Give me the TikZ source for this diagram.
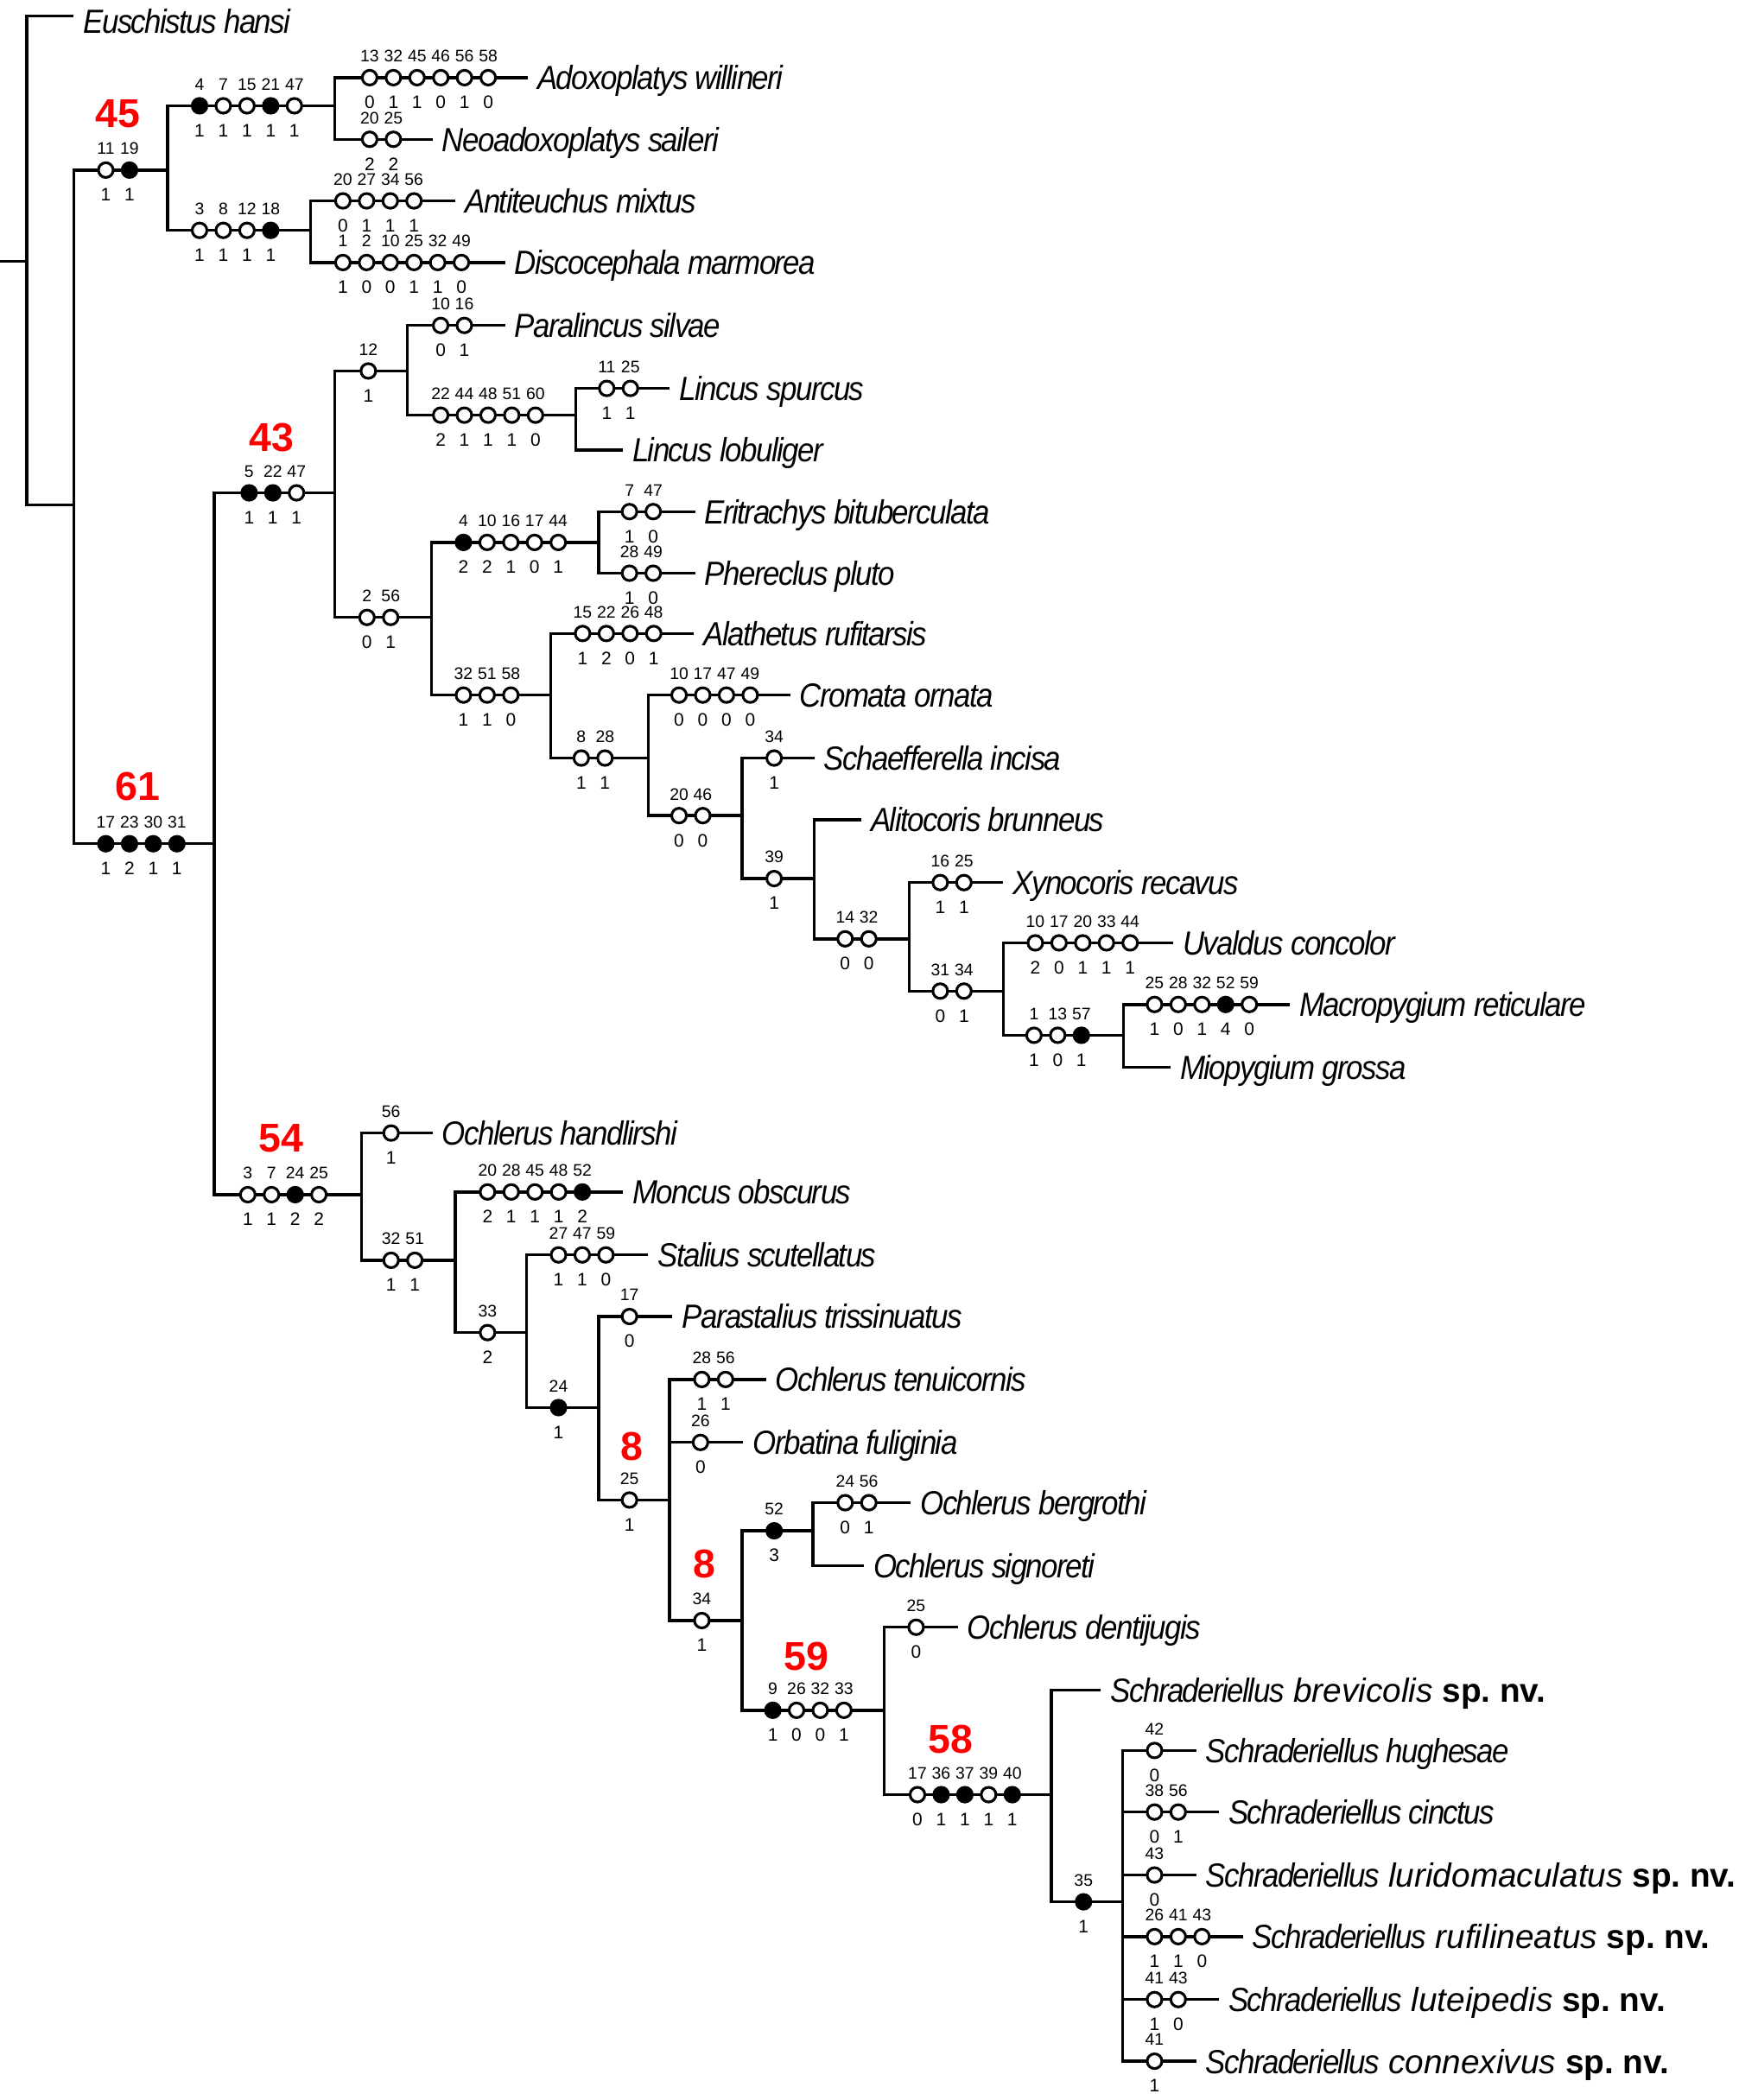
\documentclass[tikz,border=0pt]{standalone}
\usepackage{fontspec}
\setmainfont{Liberation Sans}
\newfontfamily\condf[FakeStretch=0.9,LetterSpace=-4]{Liberation Sans}
\colorlet{ow}{white}
\colorlet{bk}{black}
\newcounter{cc}
\newcommand\chs[3]{\foreach \cnum/\cstate/\cfill [count=\ci from 0] in {#3}{%
  \stepcounter{cc}%
  \node[oc, fill=\cfill] (k\arabic{cc}) at (#1+\ci*17.7,#2) {};%
  \node[nl] (kn\arabic{cc}) at (#1+\ci*17.7,#2-16) {\cnum};%
  \node[sl] (ks\arabic{cc}) at (#1+\ci*17.7,#2+18.5) {\cstate};}}
\newcommand\spnv[1]{{\condf\itshape Schraderiellus} {\itshape\fontsize{25}{30}\selectfont #1} {\bfseries\fontsize{25}{30}\selectfont sp.\ nv.}}
\tikzset{
  br/.style={line width=2.2pt, line join=miter},
  oc/.style={circle, draw, line width=2pt, minimum size=11pt, inner sep=0pt},
  nl/.style={inner sep=0pt, font=\fontsize{12.5}{13}\selectfont},
  sl/.style={inner sep=0pt, font=\fontsize{13.5}{14}\selectfont},
  tx/.style={anchor=base west, inner sep=0pt, font=\condf\itshape\fontsize{25}{30}\selectfont},
  sx/.style={anchor=base west, inner sep=0pt, font=\fontsize{25}{30}\selectfont},
  rd/.style={inner sep=0pt, text=red, font=\bfseries\fontsize{30}{30}\selectfont},
}
\begin{document}
\begin{tikzpicture}[x=1pt,y=-1pt]
\useasboundingbox (0,0) rectangle (1298,1568);
% junctions
\coordinate (rootstub) at (0,195);
\coordinate (R) at (20,195);
\coordinate (tE) at (55,12);
\coordinate (A) at (55,377);
\coordinate (N45) at (125,127);
\coordinate (N45a) at (250,79);
\coordinate (tAdox) at (394,58);
\coordinate (tNeo) at (323,104);
\coordinate (N45b) at (232,172);
\coordinate (tAnti) at (340,150);
\coordinate (tDisc) at (377,196);
\coordinate (N61) at (160,630);
\coordinate (N43) at (250,368);
\coordinate (N12) at (304,277);
\coordinate (tPara) at (377,243);
\coordinate (NL) at (430,310);
\coordinate (tLsp) at (500,290);
\coordinate (tLlo) at (465,336);
\coordinate (N2) at (322,461);
\coordinate (N4) at (447,405);
\coordinate (tErit) at (519,382);
\coordinate (tPher) at (519,428);
\coordinate (N32) at (411,519);
\coordinate (tAla) at (518,473);
\coordinate (N8) at (484,566);
\coordinate (tCro) at (590,519);
\coordinate (N20) at (554,609);
\coordinate (tSch) at (608,566);
\coordinate (N39) at (608,656);
\coordinate (tAli) at (643,612);
\coordinate (N14) at (679,701);
\coordinate (tXyn) at (749,659);
\coordinate (N31) at (749,740);
\coordinate (tUva) at (876,704);
\coordinate (N1) at (839,773);
\coordinate (tMac) at (963,750);
\coordinate (tMio) at (874,797);
\coordinate (N54) at (270,892);
\coordinate (tOha) at (323,846);
\coordinate (N3251) at (340,941);
\coordinate (tMon) at (465,890);
\coordinate (N33) at (393,995);
\coordinate (tSta) at (484,937);
\coordinate (N24) at (447,1051);
\coordinate (tPar) at (502,983);
\coordinate (N25) at (500,1120);
\coordinate (tOte) at (572,1030);
\coordinate (tOrb) at (555,1077);
\coordinate (N34) at (554,1210);
\coordinate (N52) at (607,1143);
\coordinate (tOber) at (680,1122);
\coordinate (tOsig) at (645,1169);
\coordinate (N59) at (660,1277);
\coordinate (tOden) at (715,1215);
\coordinate (N58) at (785,1340);
\coordinate (tSbre) at (822,1262);
\coordinate (N35) at (838,1420);
\coordinate (tShug) at (893,1307);
\coordinate (tScin) at (910,1353);
\coordinate (tSlur) at (893,1400);
\coordinate (tSruf) at (928,1446);
\coordinate (tSlut) at (910,1493);
\coordinate (tScon) at (893,1539);
% branches
\draw[br] (rootstub) -- (R);
\draw[br] (R) |- (tE);
\draw[br] (R) |- (A);
\draw[br] (A) |- (N45);
\draw[br] (A) |- (N61);
\draw[br] (N45) |- (N45a);
\draw[br] (N45) |- (N45b);
\draw[br] (N45a) |- (tAdox);
\draw[br] (N45a) |- (tNeo);
\draw[br] (N45b) |- (tAnti);
\draw[br] (N45b) |- (tDisc);
\draw[br] (N61) |- (N43);
\draw[br] (N61) |- (N54);
\draw[br] (N43) |- (N12);
\draw[br] (N43) |- (N2);
\draw[br] (N12) |- (tPara);
\draw[br] (N12) |- (NL);
\draw[br] (NL) |- (tLsp);
\draw[br] (NL) |- (tLlo);
\draw[br] (N2) |- (N4);
\draw[br] (N2) |- (N32);
\draw[br] (N4) |- (tErit);
\draw[br] (N4) |- (tPher);
\draw[br] (N32) |- (tAla);
\draw[br] (N32) |- (N8);
\draw[br] (N8) |- (tCro);
\draw[br] (N8) |- (N20);
\draw[br] (N20) |- (tSch);
\draw[br] (N20) |- (N39);
\draw[br] (N39) |- (tAli);
\draw[br] (N39) |- (N14);
\draw[br] (N14) |- (tXyn);
\draw[br] (N14) |- (N31);
\draw[br] (N31) |- (tUva);
\draw[br] (N31) |- (N1);
\draw[br] (N1) |- (tMac);
\draw[br] (N1) |- (tMio);
\draw[br] (N54) |- (tOha);
\draw[br] (N54) |- (N3251);
\draw[br] (N3251) |- (tMon);
\draw[br] (N3251) |- (N33);
\draw[br] (N33) |- (tSta);
\draw[br] (N33) |- (N24);
\draw[br] (N24) |- (tPar);
\draw[br] (N24) |- (N25);
\draw[br] (N25) |- (tOte);
\draw[br] (N25) |- (tOrb);
\draw[br] (N25) |- (N34);
\draw[br] (N34) |- (N52);
\draw[br] (N34) |- (N59);
\draw[br] (N52) |- (tOber);
\draw[br] (N52) |- (tOsig);
\draw[br] (N59) |- (tOden);
\draw[br] (N59) |- (N58);
\draw[br] (N58) |- (tSbre);
\draw[br] (N58) |- (N35);
\draw[br] (N35) |- (tShug);
\draw[br] (N35) |- (tScin);
\draw[br] (N35) |- (tSlur);
\draw[br] (N35) |- (tSruf);
\draw[br] (N35) |- (tSlut);
\draw[br] (N35) |- (tScon);
% characters
\chs{79}{127}{11/1/ow,19/1/bk}
\chs{149}{79}{4/1/bk,7/1/ow,15/1/ow,21/1/bk,47/1/ow}
\chs{276}{58}{13/0/ow,32/1/ow,45/1/ow,46/0/ow,56/1/ow,58/0/ow}
\chs{276}{104}{20/2/ow,25/2/ow}
\chs{149}{172}{3/1/ow,8/1/ow,12/1/ow,18/1/bk}
\chs{256}{150}{20/0/ow,27/1/ow,34/1/ow,56/1/ow}
\chs{256}{196}{1/1/ow,2/0/ow,10/0/ow,25/1/ow,32/1/ow,49/0/ow}
\chs{79}{630}{17/1/bk,23/2/bk,30/1/bk,31/1/bk}
\chs{186}{368}{5/1/bk,22/1/bk,47/1/ow}
\chs{275}{277}{12/1/ow}
\chs{329}{243}{10/0/ow,16/1/ow}
\chs{329}{310}{22/2/ow,44/1/ow,48/1/ow,51/1/ow,60/0/ow}
\chs{453}{290}{11/1/ow,25/1/ow}
\chs{274}{461}{2/0/ow,56/1/ow}
\chs{346}{405}{4/2/bk,10/2/ow,16/1/ow,17/0/ow,44/1/ow}
\chs{470}{382}{7/1/ow,47/0/ow}
\chs{470}{428}{28/1/ow,49/0/ow}
\chs{346}{519}{32/1/ow,51/1/ow,58/0/ow}
\chs{435}{473}{15/1/ow,22/2/ow,26/0/ow,48/1/ow}
\chs{434}{566}{8/1/ow,28/1/ow}
\chs{507}{519}{10/0/ow,17/0/ow,47/0/ow,49/0/ow}
\chs{507}{609}{20/0/ow,46/0/ow}
\chs{578}{566}{34/1/ow}
\chs{578}{656}{39/1/ow}
\chs{631}{701}{14/0/ow,32/0/ow}
\chs{702}{659}{16/1/ow,25/1/ow}
\chs{702}{740}{31/0/ow,34/1/ow}
\chs{773}{704}{10/2/ow,17/0/ow,20/1/ow,33/1/ow,44/1/ow}
\chs{772}{773}{1/1/ow,13/0/ow,57/1/bk}
\chs{862}{750}{25/1/ow,28/0/ow,32/1/ow,52/4/bk,59/0/ow}
\chs{185}{892}{3/1/ow,7/1/ow,24/2/bk,25/2/ow}
\chs{292}{846}{56/1/ow}
\chs{292}{941}{32/1/ow,51/1/ow}
\chs{364}{890}{20/2/ow,28/1/ow,45/1/ow,48/1/ow,52/2/bk}
\chs{364}{995}{33/2/ow}
\chs{417}{937}{27/1/ow,47/1/ow,59/0/ow}
\chs{417}{1051}{24/1/bk}
\chs{470}{983}{17/0/ow}
\chs{470}{1120}{25/1/ow}
\chs{524}{1030}{28/1/ow,56/1/ow}
\chs{523}{1077}{26/0/ow}
\chs{524}{1210}{34/1/ow}
\chs{578}{1143}{52/3/bk}
\chs{631}{1122}{24/0/ow,56/1/ow}
\chs{577}{1277}{9/1/bk,26/0/ow,32/0/ow,33/1/ow}
\chs{684}{1215}{25/0/ow}
\chs{685}{1340}{17/0/ow,36/1/bk,37/1/bk,39/1/ow,40/1/bk}
\chs{809}{1420}{35/1/bk}
\chs{862}{1307}{42/0/ow}
\chs{862}{1353}{38/0/ow,56/1/ow}
\chs{862}{1400}{43/0/ow}
\chs{862}{1446}{26/1/ow,41/1/ow,43/0/ow}
\chs{862}{1493}{41/1/ow,43/0/ow}
\chs{862}{1539}{41/1/ow}
% red numbers
\node[rd] (r45) at (88,85) {45};
\node[rd] (r43) at (203,327) {43};
\node[rd] (r61) at (103,587) {61};
\node[rd] (r54) at (210,850) {54};
\node[rd] (r8a) at (472,1080) {8};
\node[rd] (r8b) at (526,1168) {8};
\node[rd] (r59) at (602,1237) {59};
\node[rd] (r58) at (710,1299) {58};
% taxa
\node[tx] (lE) at ([xshift=7pt,yshift=-13pt]tE) {Euschistus hansi};
\node[tx] (lAdox) at ([xshift=7pt,yshift=-9pt]tAdox) {Adoxoplatys willineri};
\node[tx] (lNeo) at ([xshift=7pt,yshift=-9pt]tNeo) {Neoadoxoplatys saileri};
\node[tx] (lAnti) at ([xshift=7pt,yshift=-9pt]tAnti) {Antiteuchus mixtus};
\node[tx] (lDisc) at ([xshift=7pt,yshift=-9pt]tDisc) {Discocephala marmorea};
\node[tx] (lPara) at ([xshift=7pt,yshift=-9pt]tPara) {Paralincus silvae};
\node[tx] (lLsp) at ([xshift=7pt,yshift=-9pt]tLsp) {Lincus spurcus};
\node[tx] (lLlo) at ([xshift=7pt,yshift=-9pt]tLlo) {Lincus lobuliger};
\node[tx] (lErit) at ([xshift=7pt,yshift=-9pt]tErit) {Eritrachys bituberculata};
\node[tx] (lPher) at ([xshift=7pt,yshift=-9pt]tPher) {Phereclus pluto};
\node[tx] (lAla) at ([xshift=7pt,yshift=-9pt]tAla) {Alathetus rufitarsis};
\node[tx] (lCro) at ([xshift=7pt,yshift=-9pt]tCro) {Cromata ornata};
\node[tx] (lSch) at ([xshift=7pt,yshift=-9pt]tSch) {Schaefferella incisa};
\node[tx] (lAli) at ([xshift=7pt,yshift=-9pt]tAli) {Alitocoris brunneus};
\node[tx] (lXyn) at ([xshift=7pt,yshift=-9pt]tXyn) {Xynocoris recavus};
\node[tx] (lUva) at ([xshift=7pt,yshift=-9pt]tUva) {Uvaldus concolor};
\node[tx] (lMac) at ([xshift=7pt,yshift=-9pt]tMac) {Macropygium reticulare};
\node[tx] (lMio) at ([xshift=7pt,yshift=-9pt]tMio) {Miopygium grossa};
\node[tx] (lOha) at ([xshift=7pt,yshift=-9pt]tOha) {Ochlerus handlirshi};
\node[tx] (lMon) at ([xshift=7pt,yshift=-9pt]tMon) {Moncus obscurus};
\node[tx] (lSta) at ([xshift=7pt,yshift=-9pt]tSta) {Stalius scutellatus};
\node[tx] (lPar) at ([xshift=7pt,yshift=-9pt]tPar) {Parastalius trissinuatus};
\node[tx] (lOte) at ([xshift=7pt,yshift=-9pt]tOte) {Ochlerus tenuicornis};
\node[tx] (lOrb) at ([xshift=7pt,yshift=-9pt]tOrb) {Orbatina fuliginia};
\node[tx] (lOber) at ([xshift=7pt,yshift=-9pt]tOber) {Ochlerus bergrothi};
\node[tx] (lOsig) at ([xshift=7pt,yshift=-9pt]tOsig) {Ochlerus signoreti};
\node[tx] (lOden) at ([xshift=7pt,yshift=-9pt]tOden) {Ochlerus dentijugis};
\node[sx] (lSbre) at ([xshift=7pt,yshift=-9pt]tSbre) {\spnv{brevicolis}};
\node[tx] (lShug) at ([xshift=7pt,yshift=-9pt]tShug) {Schraderiellus hughesae};
\node[tx] (lScin) at ([xshift=7pt,yshift=-9pt]tScin) {Schraderiellus cinctus};
\node[sx] (lSlur) at ([xshift=7pt,yshift=-9pt]tSlur) {\spnv{luridomaculatus}};
\node[sx] (lSruf) at ([xshift=7pt,yshift=-9pt]tSruf) {\spnv{rufilineatus}};
\node[sx] (lSlut) at ([xshift=7pt,yshift=-9pt]tSlut) {\spnv{luteipedis}};
\node[sx] (lScon) at ([xshift=7pt,yshift=-9pt]tScon) {\spnv{connexivus}};
\end{tikzpicture}
\end{document}
